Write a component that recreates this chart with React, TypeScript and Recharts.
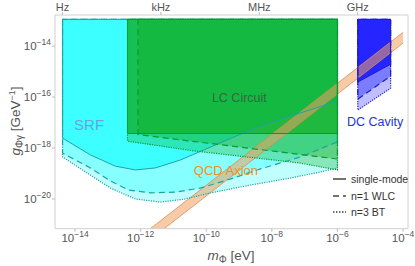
import { Area, ComposedChart, Line, ReferenceDot, XAxis, YAxis } from "recharts";

// all values are log10: mass m in eV, coupling g in GeV^-1
const MASS_TICKS = [-14, -12, -10, -8, -6, -4];
const COUPLING_TICKS = [-20, -18, -16, -14];
const HZ_TICKS = [-14.383, -11.383, -8.383, -5.383];
const HZ_LABELS = ["Hz", "kHz", "MHz", "GHz"];

const TOP = -12.95;

// SRF lower edges
const SRF_SINGLE = [
  [-14.38, -17.61], [-13.53, -18.27], [-12.77, -18.71], [-12.16, -18.86],
  [-11.55, -18.78], [-10.79, -18.47], [-9.87, -17.96], [-8.65, -17.29],
  [-7.44, -16.75], [-6.0, -16.16],
];
const SRF_WLC = [
  [-14.38, -18.2], [-13.53, -18.78], [-12.92, -19.29], [-12.37, -19.65],
  [-11.7, -19.76], [-10.94, -19.73], [-10.18, -19.57], [-9.27, -19.22],
  [-8.35, -18.82], [-7.13, -18.35], [-6.0, -17.76],
];
const SRF_BT = [
  [-14.38, -18.35], [-13.68, -18.94], [-12.92, -19.57], [-12.16, -20.0],
  [-11.4, -20.12], [-10.64, -20.0], [-9.87, -19.76], [-8.65, -19.45],
  [-7.44, -19.18], [-6.53, -18.94], [-6.0, -18.78],
];

// LC circuit lower edges
const LC_SINGLE = [[-12.4, -17.43], [-6.0, -17.43]];
const LC_WLC = [[-12.08, -17.47], [-10.33, -17.75], [-6.0, -18.43]];
const LC_BT = [[-12.4, -17.73], [-10.33, -18.12], [-7.13, -18.59], [-6.0, -18.86]];

// DC cavity lower edges
const DC_SINGLE = [[-5.38, -15.41], [-4.38, -14.71]];
const DC_WLC = [[-5.38, -16.08], [-4.38, -15.18]];
const DC_BT = [[-5.38, -16.51], [-4.38, -15.65]];

// QCD axion band
const QCD_MASS = [-12.5, -4.0];
const QCD_LOWER = [-22.38, -13.88];
const QCD_UPPER = [-21.96, -13.46];

const fillData = (edge: number[][]) =>
  edge.map(([m, g]) => ({ m, band: [g, TOP] }));

const outlineData = (edge: number[][]) => [
  { m: edge[0][0], g: TOP },
  ...edge.map(([m, g]) => ({ m, g })),
  { m: edge[edge.length - 1][0], g: TOP },
  { m: edge[0][0], g: TOP },
];

const qcdData = QCD_MASS.map((m, i) => ({ m, band: [QCD_LOWER[i], QCD_UPPER[i]] }));

const SOLID = undefined;
const DASHED = "6 4";
const DOTTED = "1.2 1.2";

const FONT = '"Liberation Sans", Arial, sans-serif';

const sup = (v: number) => String(v).replace("-", "\u2212");

const BottomTick = ({ x, y, payload }: any) => (
  <text x={x} y={y + 9} textAnchor="middle" fill="#555" fontSize={11.5} fontFamily={FONT}>
    <tspan>10</tspan>
    <tspan dy={-5} fontSize={8.5}>{sup(payload.value)}</tspan>
  </text>
);

const LeftTick = ({ x, y, payload }: any) => (
  <text x={x} y={y + 4} textAnchor="end" fill="#555" fontSize={11.5} fontFamily={FONT}>
    <tspan>10</tspan>
    <tspan dy={-5} fontSize={8.5}>{sup(payload.value)}</tspan>
  </text>
);

const TopTick = ({ x, y, payload, index }: any) => (
  <text x={x} y={y} textAnchor="middle" fill="#555" fontSize={11} fontFamily={FONT}>
    {HZ_LABELS[index]}
  </text>
);

type Group = {
  edges: number[][][];
  opacity: number[];
  fill: string;
  stroke: string;
  key: string;
};

const DASHES = [DOTTED, DASHED, SOLID];

const renderGroup = (grp: Group) => {
  const out: any[] = [];
  grp.edges.forEach((edge, i) => {
    out.push(
      <Area
        key={`${grp.key}-f${i}`}
        data={fillData(edge)}
        dataKey="band"
        type="linear"
        fill={grp.fill}
        fillOpacity={grp.opacity[i]}
        stroke="none"
        isAnimationActive={false}
        activeDot={false}
      />
    );
  });
  grp.edges.forEach((edge, i) => {
    out.push(
      <Line
        key={`${grp.key}-l${i}`}
        data={outlineData(edge)}
        dataKey="g"
        type="linear"
        stroke={grp.stroke}
        strokeWidth={i === 2 ? 1 : 1.2}
        strokeDasharray={DASHES[i]}
        dot={false}
        activeDot={false}
        isAnimationActive={false}
      />
    );
  });
  return out;
};

const SRF: Group = {
  key: "srf",
  edges: [SRF_BT, SRF_WLC, SRF_SINGLE],
  opacity: [0.25, 0.3, 0.55],
  fill: "#00ffff",
  stroke: "#1fa3a8",
};
const LC: Group = {
  key: "lc",
  edges: [LC_BT, LC_WLC, LC_SINGLE],
  opacity: [0.3, 0.35, 0.65],
  fill: "#0cac1c",
  stroke: "#0a9a2a",
};
const DC: Group = {
  key: "dc",
  edges: [DC_BT, DC_WLC, DC_SINGLE],
  opacity: [0.25, 0.35, 0.7],
  fill: "#0000ff",
  stroke: "#1a1ad0",
};

const LegendAndTitles = () => (
  <svg
    width={415}
    height={266}
    style={{ position: "absolute", left: 0, top: 0, pointerEvents: "none" }}
    fontFamily={FONT}
  >
    {[
      { label: "single-mode", dash: SOLID, y: 179 },
      { label: "n=1 WLC", dash: DASHED, y: 196 },
      { label: "n=3 BT", dash: "1.5 1.5", y: 212 },
    ].map((r) => (
      <g key={r.label}>
        <line x1={333} x2={346} y1={r.y} y2={r.y} stroke="#444" strokeWidth={1.5} strokeDasharray={r.dash} />
        <text x={351} y={r.y + 3.5} fontSize={10.5} fill="#333">{r.label}</text>
      </g>
    ))}
    <text x={231} y={260} textAnchor="middle" fill="#555" fontSize={13.5}>
      <tspan fontStyle="italic">m</tspan>
      <tspan fontSize={10} dy={3}>Φ</tspan>
      <tspan dy={-3}> [eV]</tspan>
    </text>
    <text
      transform="translate(20,121) rotate(-90)"
      textAnchor="middle"
      fill="#555"
      fontSize={13.5}
    >
      <tspan fontStyle="italic">g</tspan>
      <tspan fontSize={10} dy={3}>Φγ</tspan>
      <tspan dy={-3}> [GeV</tspan>
      <tspan fontSize={9} dy={-5}>−1</tspan>
      <tspan dy={5}>]</tspan>
    </text>
  </svg>
);

export default function App() {
  return (
    <div style={{ position: "absolute", left: 0, top: 0, width: 415, height: 266, background: "#fff" }}>
      <ComposedChart width={415} height={266} margin={{ top: 0, right: 0, bottom: 0, left: 0 }}>
        <XAxis
          dataKey="m"
          type="number"
          domain={[-14.61, -3.85]}
          allowDataOverflow
          ticks={MASS_TICKS}
          tick={<BottomTick />}
          tickSize={3}
          tickMargin={1}
          height={37.3}
          stroke="#d0d0d0"
          tickLine={{ stroke: "#bbb" }}
        />
        <XAxis
          xAxisId="top"
          orientation="top"
          dataKey="m"
          type="number"
          domain={[-14.61, -3.85]}
          allowDataOverflow
          ticks={HZ_TICKS}
          tick={<TopTick />}
          tickSize={3}
          tickMargin={1}
          height={15}
          stroke="#d0d0d0"
          tickLine={{ stroke: "#bbb" }}
        />
        <YAxis
          type="number"
          domain={[-21.165, -12.78]}
          allowDataOverflow
          ticks={COUPLING_TICKS}
          tick={<LeftTick />}
          tickSize={3}
          tickMargin={1}
          width={55}
          stroke="#d0d0d0"
          tickLine={{ stroke: "#bbb" }}
        />
        <YAxis
          yAxisId="right"
          orientation="right"
          type="number"
          domain={[-21.165, -12.78]}
          tick={false}
          tickLine={false}
          width={7}
          stroke="#d0d0d0"
        />
        {renderGroup(SRF)}
        {renderGroup(LC)}
        {renderGroup(DC)}
        <Area
          data={qcdData}
          dataKey="band"
          type="linear"
          fill="#f0a060"
          fillOpacity={0.55}
          stroke="#dd8c50"
          strokeWidth={0.8}
          isAnimationActive={false}
          activeDot={false}
        />
        <ReferenceDot x={-13.57} y={-17.1} r={0} fill="none" stroke="none"
          label={{ value: "SRF", position: "center", fill: "#6e9fe6", fontSize: 15, fontFamily: FONT }} />
        <ReferenceDot x={-8.99} y={-16.0} r={0} fill="none" stroke="none"
          label={{ value: "LC Circuit", position: "center", fill: "#3a6640", fontSize: 12.5, fontFamily: FONT }} />
        <ReferenceDot x={-9.4} y={-18.86} r={0} fill="none" stroke="none"
          label={{ value: "QCD Axion", position: "center", fill: "#f39020", fontSize: 13, fontFamily: FONT }} />
        <ReferenceDot x={-4.85} y={-16.98} r={0} fill="none" stroke="none"
          label={{ value: "DC Cavity", position: "center", fill: "#2233dd", fontSize: 12.5, fontFamily: FONT }} />
      </ComposedChart>
      <LegendAndTitles />
    </div>
  );
}
